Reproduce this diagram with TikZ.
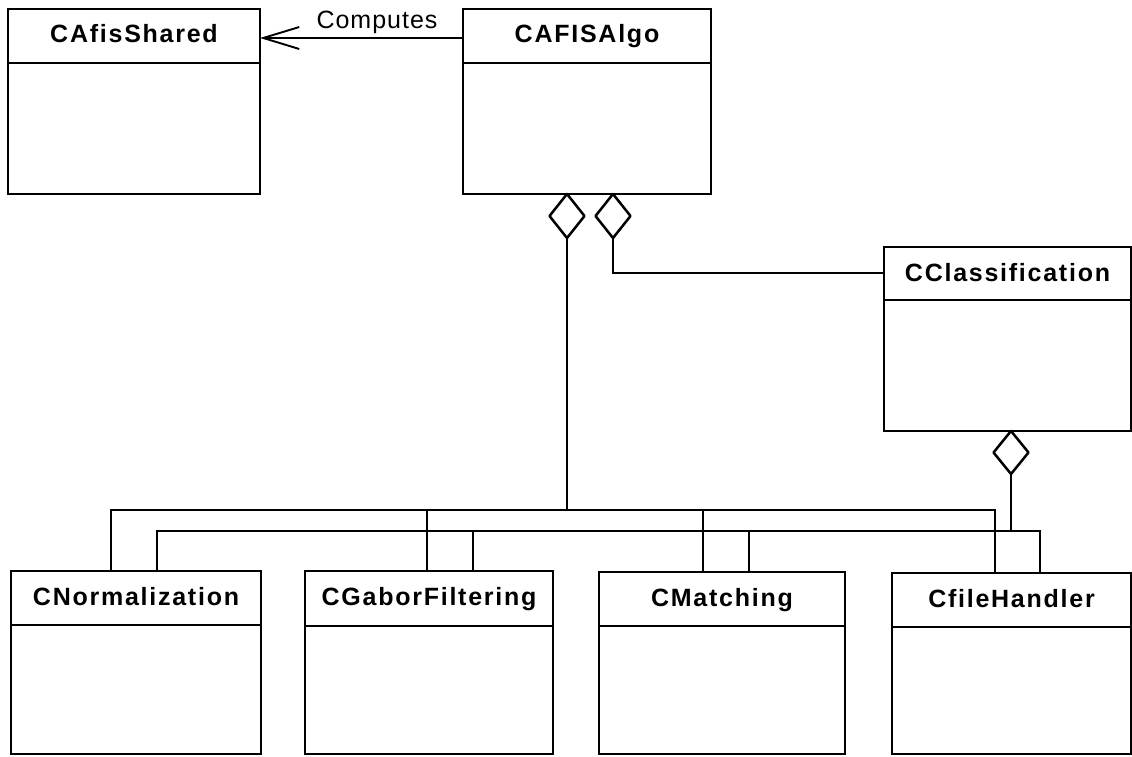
\documentclass[tikz,border=0pt]{standalone}
\usepackage{fontspec}
\setmainfont{Liberation Sans}
\newfontfamily\titlefont{Liberation Sans}[LetterSpace=7]
\newfontfamily\labelfont{Liberation Sans}[LetterSpace=4]
\usetikzlibrary{shapes.geometric,arrows.meta,calc}

\tikzset{
  classbox/.style={draw, line width=2.6pt, rectangle, inner sep=0pt, outer sep=0pt, fill=white},
  divline/.style={line width=2.6pt},
  titletext/.style={font=\titlefont\bfseries\fontsize{25}{30}\selectfont, inner sep=0pt, anchor=base},
  labeltext/.style={font=\labelfont\fontsize{25}{30}\selectfont, inner sep=0pt, anchor=base},
  conn/.style={line width=2.5pt},
  agg/.style={diamond, draw, fill=white, line width=2.5pt, line join=round, minimum width=35pt, minimum height=44pt, inner sep=0pt, outer sep=0pt},
  assocarrow/.style={line width=2.5pt, -{Straight Barb[length=36pt,width=22pt,line width=1.9pt]}}
}

% name, x1, y1, x2, y2, ydiv, title
\newcommand\umlclassbox[7]{%
  \pgfmathsetmacro\ubw{#4-#2}%
  \pgfmathsetmacro\ubh{#5-#3}%
  \node[classbox, minimum width=\ubw pt, minimum height=\ubh pt] (#1) at ({(#2+#4)/2},{(#3+#5)/2}) {};
  \draw[divline] (#1.west |- 0,#6) -- (#1.east |- 0,#6);
  \node[titletext] (#1-t) at ({(#2+#4)/2},{#3+34}) {#7};
}

\begin{document}
\begin{tikzpicture}[x=1pt,y=-1pt]
  \useasboundingbox (0,0) rectangle (1132,757);
  \fill[white] (0,0) rectangle (1132,757);

  \umlclassbox{shared}{8}{9}{260}{194}{63}{CAfisShared}
  \umlclassbox{algo}{463}{9}{711}{194}{63}{CAFISAlgo}
  \umlclassbox{class}{884}{247}{1131}{431}{300}{CClassification}
  \umlclassbox{norm}{11}{571}{261}{754}{625}{CNormalization}
  \umlclassbox{gabor}{305}{571}{553}{754}{626}{CGaborFiltering}
  \umlclassbox{match}{599}{572}{845}{754}{626}{CMatching}
  \umlclassbox{file}{892}{573}{1131}{754}{627}{CfileHandler}

  % association "Computes"
  \draw[assocarrow] (algo.west |- 0,38) -- (shared.east |- 0,38);
  \node[labeltext] (computes) at (377,29) {Computes};

  % aggregation diamonds
  \node[agg, anchor=north] (d1) at (algo.south -| 567,0) {};
  \node[agg, anchor=north] (d2) at (algo.south -| 613,0) {};
  \node[agg, anchor=north, minimum height=43pt] (d3) at (class.south -| 1011,0) {};

  % bus coordinates
  \coordinate (busA) at (d1.south |- 0,510);
  \coordinate (busB) at (d3.south |- 0,531);
  \coordinate (n1) at ($(norm.north west)+(100,0)$);
  \coordinate (n2) at ($(norm.north west)+(146,0)$);
  \coordinate (g1) at ($(gabor.north west)+(122,0)$);
  \coordinate (g2) at ($(gabor.north west)+(168,0)$);
  \coordinate (m1) at ($(match.north west)+(104,0)$);
  \coordinate (m2) at ($(match.north west)+(150,0)$);
  \coordinate (f1) at ($(file.north west)+(103,0)$);
  \coordinate (f2) at ($(file.north west)+(148,0)$);

  % CAFISAlgo -> CClassification
  \draw[conn] (d2.south) |- (class.west |- 0,273);

  % upper bus (CAFISAlgo aggregation)
  \draw[conn] (d1.south) -- (busA);
  \draw[conn] (n1) |- (busA) -| (f1);
  \draw[conn] (g1) -- (g1 |- busA);
  \draw[conn] (m1) -- (m1 |- busA);

  % lower bus (CClassification aggregation)
  \draw[conn] (d3.south) -- (busB);
  \draw[conn] (n2) |- (busB) -| (f2);
  \draw[conn] (g2) -- (g2 |- busB);
  \draw[conn] (m2) -- (m2 |- busB);
\end{tikzpicture}
\end{document}
